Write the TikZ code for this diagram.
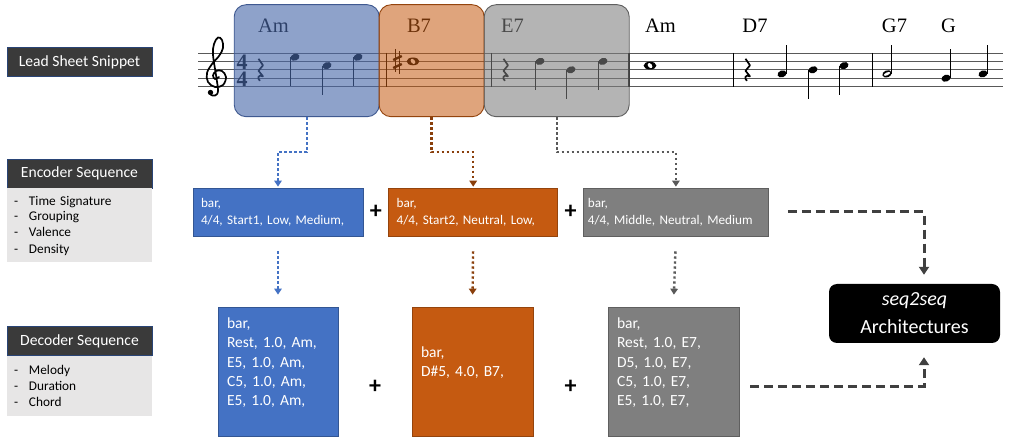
\documentclass[tikz,border=0pt]{standalone}
\usepackage{fontspec}
\setmainfont{Carlito}
\newfontfamily\chordfont{Liberation Serif}
\usepackage{xcolor}
\usetikzlibrary{arrows.meta, calc, positioning}

\definecolor{blueA}{HTML}{4472C4}
\definecolor{orangeA}{HTML}{C55A11}
\definecolor{grayA}{HTML}{7F7F7F}
\definecolor{darkLbl}{HTML}{3A3A3A}
\definecolor{listGray}{HTML}{E7E6E6}
\definecolor{sheetBlue}{HTML}{4A69AA}
\definecolor{arrowGray}{HTML}{404040}

% note heads, stems and rests (x, y, +1 up / -1 down)
\newcommand{\qnote}[3]{%
  \fill[rotate around={20:(#1,#2)}] (#1,#2) ellipse (4.6 and 3.4);
  \draw[line width=1pt] ({#1+4.1*(#3)},#2) -- ({#1+4.1*(#3)},{#2-29*(#3)});}
\newcommand{\hnote}[3]{%
  \fill[rotate around={20:(#1,#2)}] (#1,#2) ellipse (4.8 and 3.5);
  \fill[white,rotate around={25:(#1,#2)}] (#1,#2) ellipse (3.4 and 1.4);
  \draw[line width=1pt] ({#1+4.3*(#3)},#2) -- ({#1+4.3*(#3)},{#2-29*(#3)});}
\newcommand{\wnote}[2]{%
  \fill (#1,#2) ellipse (6.4 and 3.9);
  \fill[white,rotate around={-50:(#1,#2)}] (#1,#2) ellipse (2.9 and 1.9);}
\newcommand{\qrest}[2]{%
  \draw[line width=1.7pt, line join=round] ({#1-1.5},{#2-11}) -- ({#1+3},{#2-4.5})
    -- ({#1-1.5},{#2+1}) -- ({#1+3},{#2+6.5})
    .. controls ({#1-2},{#2+4}) and ({#1-3},{#2+9}) .. ({#1},{#2+11});}

\tikzset{
  hdr/.style={fill=darkLbl, draw=blueA!60!black, line width=0.6pt, text=white,
    minimum width=145pt, minimum height=29pt, inner sep=0pt,
    font=\fontsize{15.6}{18}\selectfont},
  listbox/.style={fill=listGray, text width=131pt, inner xsep=7pt, align=left,
    font=\fontsize{13.3}{16}\selectfont},
  sheetbox/.style={rounded corners=12pt, minimum height=112pt, line width=0.9pt},
  chord/.style={font=\chordfont\fontsize{20.5}{22}\selectfont, anchor=base, inner sep=0pt},
  encbox/.style={text=white, inner xsep=8pt, minimum height=48pt, align=left,
    line width=0.7pt, font=\fontsize{13.2}{17}\selectfont},
  decbox/.style={text=white, inner xsep=9pt, minimum height=129pt, align=left,
    line width=0.7pt, font=\fontsize{15.5}{19.3}\selectfont},
  plus/.style={font=\bfseries\fontsize{24}{24}\selectfont, inner sep=0pt},
  dotflow/.style={line width=2.4pt, dash pattern=on 2.4pt off 2.6pt,
    -{Triangle[length=6pt,width=7.5pt]}},
  flowdash/.style={arrowGray, line width=3pt, dash pattern=on 9pt off 5pt,
    -{Triangle[length=8pt,width=10pt]}},
}

\begin{document}
\begin{tikzpicture}[x=1pt, y=-1pt]
\path[fill=white, use as bounding box] (0,0) rectangle (1010,443);

% staff
\foreach \y in {53,61.4,69.8,78.2,86.6}
  \draw[black!65, line width=0.8pt] (198,\y) -- (1003,\y);
\foreach \x in {386,491,733,872}
  \draw[line width=1pt] (\x,53) -- (\x,86.6);
\draw[line width=2.6pt] (629,53) -- (629,86.6);
\draw[line width=1.7pt, line cap=round] plot[smooth, tension=0.6] coordinates {
  (219,77) (215,79) (213,75.5) (216,71) (222,71) (226,77) (223,85) (215,87)
  (208,82) (207,73) (212,64) (219,56) (223,48) (222,40) (218,37.5) (214,44)
  (213,55) (216,75) (218,91) (215,95.5) (211,95)};
\fill (210.5,92.5) circle (2.7);
\node[font=\chordfont\bfseries\fontsize{22}{17}\selectfont, align=center, inner sep=0pt] (timeSig) at (242,70.5) {4\\4};
\qrest{260}{69.8}
\qnote{295}{57.2}{-1} \qnote{327}{65.6}{-1} \qnote{358}{57.2}{-1}
\draw[line width=1pt] (395.5,49) -- (395.5,72) (399.5,51) -- (399.5,74);
\draw[line width=2.3pt] (393.2,60) -- (401.8,56) (393.2,68) -- (401.8,64);
\wnote{413}{61.4}
\qrest{505}{69.8}
\qnote{540}{61.4}{-1} \qnote{571}{69.8}{-1} \qnote{603}{61.4}{-1}
\wnote{650}{65.6}
\qrest{747}{69.8}
\qnote{782}{73.9}{1} \qnote{813}{69.8}{-1} \qnote{844}{65.6}{-1}
\hnote{887}{73.9}{1}
\qnote{946}{78.2}{1} \qnote{983}{73.9}{1}

\node[chord] (chAm) at (273.5,32.5) {Am};
\node[chord] (chB) at (419,32.5) {B7};
\node[chord] (chE) at (512.5,32.5) {E7};
\node[chord] (chAmB) at (660.5,32.5) {Am};
\node[chord] (chD) at (755,32.5) {D7};
\node[chord] (chG7) at (894.5,32.5) {G7};
\node[chord] (chG) at (948.5,32.5) {G};

\node[sheetbox, minimum width=145pt, fill=sheetBlue, fill opacity=0.62, draw=sheetBlue!85!black] (barAm) at (306.7,60.7) {};
\node[sheetbox, minimum width=105pt, fill=orangeA, fill opacity=0.55, draw=orangeA!75!black] (barB) at (431.6,60.7) {};
\node[sheetbox, minimum width=145pt, fill=grayA, fill opacity=0.58, draw=grayA!75!black] (barE) at (556.7,60.7) {};

% left labels
\node[hdr] (leadLbl) at (79.5,62) {Lead Sheet Snippet};
\node[hdr] (encLbl) at (79.5,173.5) {Encoder Sequence};
\node[listbox, minimum height=74pt, below=0pt of encLbl] (encList)
  {\makebox[15pt][l]{-}Time Signature\\\makebox[15pt][l]{-}Grouping\\
   \makebox[15pt][l]{-}Valence\\\makebox[15pt][l]{-}Density};
\node[hdr] (decLbl) at (79.5,341) {Decoder Sequence};
\node[listbox, minimum height=60pt, below=0pt of decLbl] (decList)
  {\makebox[15pt][l]{-}Melody\\\makebox[15pt][l]{-}Duration\\\makebox[15pt][l]{-}Chord};

% encoder
\node[encbox, fill=blueA, draw=blueA!75!black, text width=154pt] (encAm) at (278,212)
  {bar,\\4/4, Start1, Low, Medium,};
\node[encbox, fill=orangeA, draw=orangeA!75!black, text width=153pt, right=25pt of encAm] (encB)
  {bar,\\4/4, Start2, Neutral, Low,};
\node[encbox, fill=grayA, draw=grayA!75!black, text width=176pt, inner xsep=4.5pt, right=25pt of encB] (encE)
  {bar,\\4/4, Middle, Neutral, Medium};
\node[plus] (plusE1) at ($(encAm.east)!0.5!(encB.west)$) {+};
\node[plus] (plusE2) at ($(encB.east)!0.5!(encE.west)$) {+};

% decoder
\node[decbox, fill=blueA, draw=blueA!75!black, text width=102pt] (decAm) at (278,371.5)
  {bar,\\Rest, 1.0, Am,\\E5, 1.0, Am,\\C5, 1.0, Am,\\E5, 1.0, Am,\\\mbox{}};
\node[decbox, fill=orangeA, draw=orangeA!75!black, text width=103pt] (decB) at (472.5,371.5)
  {bar,\\D\#5, 4.0, B7,\\\mbox{}};
\node[decbox, fill=grayA, draw=grayA!75!black, text width=113pt] (decE) at (673.5,371.5)
  {bar,\\Rest, 1.0, E7,\\D5, 1.0, E7,\\C5, 1.0, E7,\\E5, 1.0, E7,\\\mbox{}};
\node[plus] (plusD1) at ($(decAm.east)!0.5!(decB.west)+(0,15)$) {+};
\node[plus] (plusD2) at ($(decB.east)!0.5!(decE.west)+(0,15)$) {+};

\node[fill=black, text=white, rounded corners=8pt, minimum width=171pt, minimum height=59pt,
  align=center, font=\fontsize{20}{28}\selectfont] (seqArch) at (914.5,313.5)
  {\textit{seq2seq}\\Architectures};

% connectors
\draw[dotflow, blueA, shorten >=1pt] (barAm.south) -- ++(0,35) -| (encAm.north);
\draw[dotflow, orangeA!70!black, shorten >=1pt] (barB.south) -- ++(0,35) -| (encB.north);
\draw[dotflow, black!65, shorten >=1pt] (barE.south) -- ++(0,35) -| (encE.north);
\draw[dotflow, blueA, shorten <=15pt, shorten >=12pt] (encAm.south) -- (decAm.north);
\draw[dotflow, orangeA!70!black, shorten <=15pt, shorten >=12pt] (encB.south) -- (decB.north);
\draw[dotflow, black!65, shorten <=15pt, shorten >=12pt] (encE.south) -- (decE.north);
\draw[flowdash, shorten <=19pt, shorten >=9pt] (encE.east) -| ([xshift=9.5pt]seqArch.north);
\draw[flowdash, shorten <=11pt, shorten >=14pt] ([yshift=-15pt]decE.east) -| ([xshift=9.5pt]seqArch.south);
\end{tikzpicture}
\end{document}
